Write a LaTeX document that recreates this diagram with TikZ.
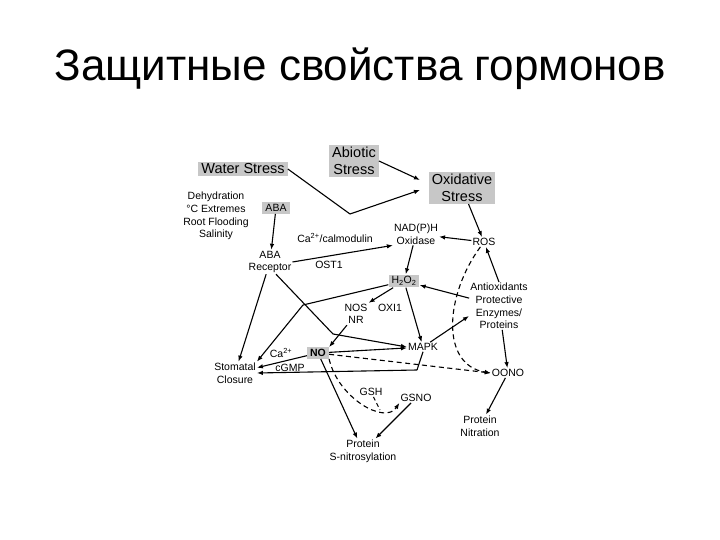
\documentclass[tikz,border=0pt]{standalone}
\usepackage{fontspec}
\setmainfont{Liberation Sans}
\usetikzlibrary{arrows.meta,positioning}

\begin{document}
\begin{tikzpicture}[x=1pt, y=-1pt,
  lb/.style={align=center, font=\fontsize{10.5}{12.6}\selectfont, inner sep=1pt},
  gb/.style={lb, fill=black!22, inner xsep=3pt, inner ysep=2pt},
  sb/.style={align=center, font=\fontsize{14.5}{17}\selectfont, fill=black!22,
             inner xsep=3pt, inner ysep=2pt},
  ar/.style={-{Latex[length=6pt,width=4.5pt]}, line width=1.1pt},
  ln/.style={line width=1.1pt},
  da/.style={ar, dash pattern=on 5pt off 3.5pt}]
\useasboundingbox (0,0) rectangle (720,540);
\node[anchor=base, font=\fontsize{44}{50}\selectfont] (title) at (360,81)
  {Защитные свойства гормонов};
% stresses
\node[sb] (water) at (243,169) {Water Stress};
\node[sb] (abiotic) at (354,161) {Abiotic\\Stress};
\node[sb] (oxid) at (462,188) {Oxidative\\Stress};
\node[lb] (dehyd) at (216,216) {Dehydration\\°C Extremes\\Root Flooding\\Salinity};
\node[gb] (aba) at (276,208) {ABA};
\node[lb] (abarec) at (270,262) {ABA\\Receptor};
\node[lb] (calm) at (335,238) {Ca\textsuperscript{2+}/calmodulin};
\node[lb] (ost) at (329,265) {OST1};
\node[lb] (nadph) at (416,234) {NAD(P)H\\Oxidase};
\node[lb] (ros) at (484,242) {ROS};
\node[gb] (hoo) at (404,281) {H\textsubscript{2}O\textsubscript{2}};
\node[lb] (antiox) at (499,306) {Antioxidants\\Protective\\Enzymes/\\Proteins};
\node[lb] (nos) at (356,314) {NOS\\NR};
\node[lb] (oxi) at (390,308) {OXI1};
\node[lb] (mapk) at (423,347) {MAPK};
\node[gb, font=\fontsize{10.5}{12.6}\selectfont\bfseries] (no) at (318,353) {NO};
\node[lb] (ca) at (281,353) {Ca\textsuperscript{2+}};
\node[lb] (cgmp) at (290,368) {cGMP};
\node[lb] (stom) at (235,373) {Stomatal\\Closure};
\node[lb] (oono) at (508,373) {OONO};
\node[lb] (gsh) at (371,392) {GSH};
\node[lb] (gsno) at (416,398) {GSNO};
\node[lb] (psn) at (363,451) {Protein\\S-nitrosylation};
\node[lb] (pnit) at (480,426) {Protein\\Nitration};
\coordinate (vx) at (350,214);
\coordinate (jr) at (333,334);
\coordinate (jh) at (303,305);
\coordinate (jm) at (417,370);
\coordinate (jg) at (380,410);
\coordinate (ae) at (469,316);
% connectors
\draw[ln] (water.east) -- (vx);
\draw[ar] (vx) -- (420,190);
\draw[ar] (abiotic.east) -- (420,180);
\draw[ar] (oxid) -- (ros);
\draw[ar] (ros) -- (nadph);
\draw[ar] (aba) -- (abarec);
\draw[ar] (abarec.east) -- (nadph.south west);
\draw[ar] (nadph) -- (hoo);
\draw[ar] (antiox) -- (hoo);
\draw[ar] (antiox.north) -- (ros);
\draw[ar] (antiox) -- (oono);
\draw[ar] (oono) -- (pnit);
\draw[ar] (hoo) -- (nos.north east);
\draw[ar] (hoo) -- (mapk);
\draw[ln] (hoo) -- (jh);
\draw[ar] (jh) -- (stom.north east);
\draw[ar] (abarec) -- (stom);
\draw[ln] (abarec.south) ++(6,0) -- (jr);
\draw[ar] (jr) -- (mapk.west);
\draw[ar] (nos) -- (no.north east);
\draw[ar] (no) -- (mapk);
\draw[da] (no) -- (oono.west);
\draw[ar] (no) -- (stom);
\draw[ln] (mapk.south) -- (jm);
\draw[ar] (jm) -- (stom.east);
\draw[ar] (mapk) -- (ae);
\draw[da] (ros) .. controls (445,295) and (440,365) .. (oono.west);
\draw[ar] (no) -- (psn);
\draw[da] (no.south east) .. controls (338,398) and (385,425) .. (gsno.south west);
\draw[ln, dash pattern=on 4pt off 3pt] (gsh) -- (jg);
\draw[ar] (gsno) -- (psn);
\end{tikzpicture}
\end{document}
